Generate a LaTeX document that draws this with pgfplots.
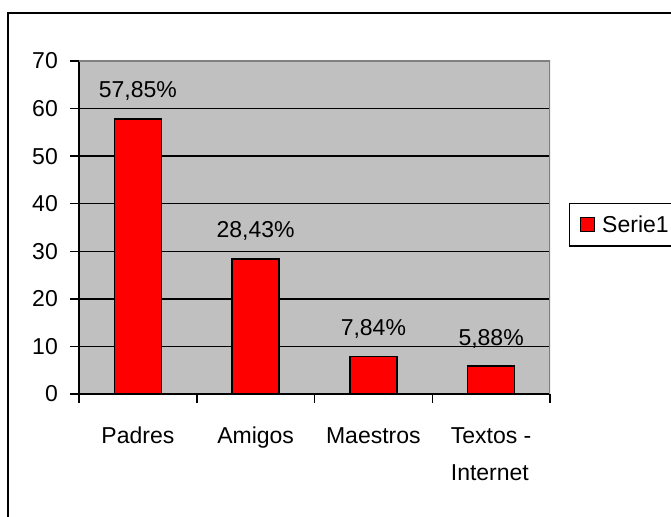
\documentclass[border=0pt]{standalone}
\usepackage{pgfplots}
\pgfplotsset{compat=1.18}
\usepackage{fontspec}
\setmainfont{Liberation Sans}
\definecolor{plotgray}{RGB}{192,192,192}
\definecolor{edgegray}{RGB}{128,128,128}
\begin{document}
\begin{tikzpicture}[x=1pt,y=1pt]
\useasboundingbox (0,0) rectangle (671,516);
\clip (0,0) rectangle (671,516);
\draw[line width=2pt] (8,-20) -- (8,503) -- (700,503);
\begin{axis}[
  at={(79pt,122pt)}, anchor=south west,
  scale only axis, width=471pt, height=333pt,
  xmin=-0.5, xmax=3.5, ymin=0, ymax=70,
  axis x line*=bottom, axis y line*=left,
  axis line style={-, line width=1.8pt, black},
  axis background/.style={fill=plotgray},
  ytick={0,10,...,70},
  xtick={-0.5,0.5,1.5,2.5,3.5},
  xticklabels={Padres,Amigos,Maestros,{Textos -\\Internet}},
  x tick label as interval,
  tick align=outside,
  major tick length=9pt,
  tick style={black, line width=1.5pt},
  ymajorgrids, grid style={black, line width=1.5pt},
  /pgf/number format/assume math mode=true,
  tick label style={font=\fontsize{23}{37}\selectfont},
  yticklabel style={inner sep=0pt, xshift=-12pt},
  xticklabel style={inner sep=0pt, yshift=-24pt, align=left},
  ybar, bar width=47pt,
  nodes near coords, point meta=explicit symbolic,
  every node near coord/.append style={font=\fontsize{23}{27}\selectfont, anchor=base, yshift=21pt, black},
  legend style={at={(1.0403,0.5736)}, anchor=north west, draw=black, line width=1.5pt,
    font=\fontsize{23}{27}\selectfont, inner xsep=4pt, inner ysep=10pt},
  legend image code/.code={\path (0pt,0pt); \draw[fill=red,draw=black,line width=1pt] (6pt,-7pt) rectangle (20pt,7pt); \path (25pt,0pt);},
]
\addplot[fill=red, draw=black, line width=1.5pt] coordinates {
  (0,57.85) [57,85\%]
  (1,28.43) [28,43\%]
  (2,7.84) [7,84\%]
  (3,5.88) [5,88\%]
};
\addlegendentry{Serie1\hspace{20pt}}
\draw[edgegray, line width=1.5pt] (rel axis cs:0,1) -- (rel axis cs:1,1) -- (rel axis cs:1,0);
\end{axis}
\end{tikzpicture}
\end{document}
